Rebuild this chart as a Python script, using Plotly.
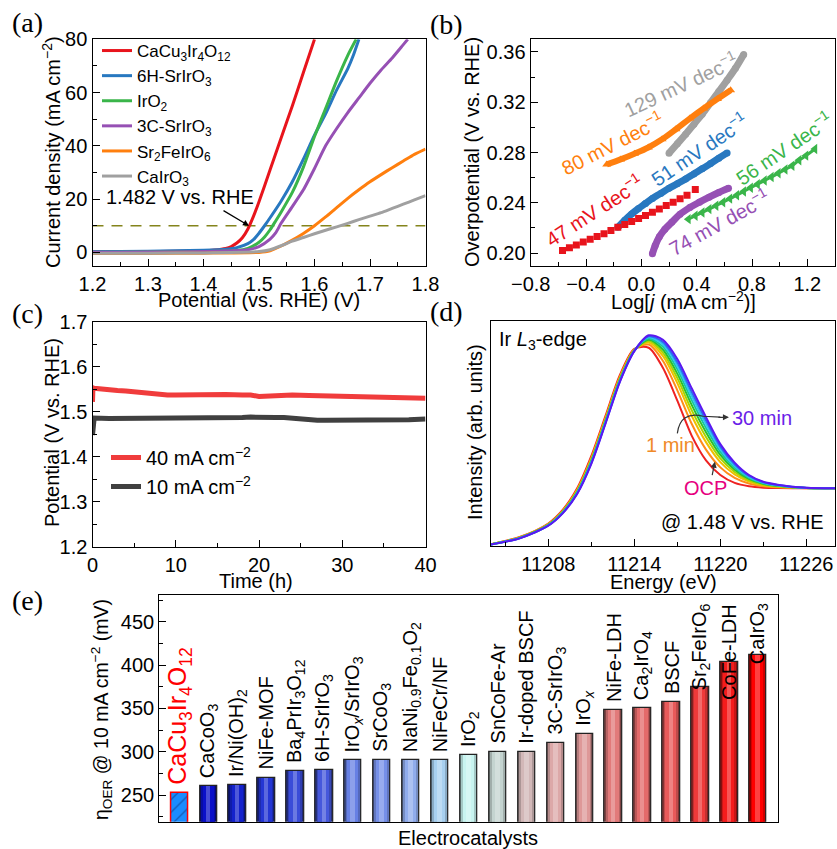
import plotly.graph_objects as go

W, H = 837, 849
FONT = "Arial, 'Liberation Sans', sans-serif"
SERIF = "'Times New Roman', 'Liberation Serif', serif"

# ---------------- (a) LSV curves ----------------
a_names = ["CaCu<sub>3</sub>Ir<sub>4</sub>O<sub>12</sub>", "6H-SrIrO<sub>3</sub>", "IrO<sub>2</sub>",
           "3C-SrIrO<sub>3</sub>", "Sr<sub>2</sub>FeIrO<sub>6</sub>", "CaIrO<sub>3</sub>"]
a_V_CaCu3Ir4O12 = [1.20, 1.30, 1.40, 1.42, 1.44, 1.45, 1.46, 1.47, 1.48, 1.49, 1.50, 1.52, 1.54, 1.56, 1.58, 1.60]
a_J_CaCu3Ir4O12 = [0.2, 0.3, 0.6, 0.9, 1.5, 2.2, 3.5, 5.5, 8.8, 13.5, 19.0, 31.0, 43.0, 55.0, 67.5, 80.0]
a_V_6H = [1.20, 1.30, 1.40, 1.44, 1.46, 1.48, 1.49, 1.50, 1.51, 1.52, 1.54, 1.56, 1.58, 1.60, 1.62, 1.64, 1.66, 1.67, 1.68]
a_J_6H = [0.2, 0.4, 0.8, 1.2, 1.8, 3.3, 4.8, 7.2, 10.0, 13.0, 19.3, 26.5, 35.0, 44.0, 52.0, 61.0, 69.0, 74.0, 80.0]
a_V_IrO2 = [1.20, 1.30, 1.40, 1.46, 1.48, 1.50, 1.51, 1.52, 1.53, 1.54, 1.56, 1.58, 1.60, 1.62, 1.64, 1.66, 1.675]
a_J_IrO2 = [0.0, 0.1, 0.3, 0.7, 1.5, 3.8, 5.8, 8.5, 11.8, 15.2, 22.5, 32.0, 43.5, 54.0, 64.5, 74.0, 80.0]
a_V_3C = [1.20, 1.30, 1.40, 1.48, 1.50, 1.52, 1.53, 1.54, 1.56, 1.58, 1.60, 1.62, 1.64, 1.66, 1.68, 1.70, 1.72, 1.74, 1.76, 1.768]
a_J_3C = [0.0, 0.1, 0.3, 1.0, 2.2, 5.0, 7.3, 11.0, 17.2, 23.5, 31.5, 40.0, 46.5, 52.5, 58.0, 63.5, 68.5, 73.0, 78.0, 80.0]
a_V_Sr2FeIrO6 = [1.20, 1.30, 1.40, 1.50, 1.52, 1.54, 1.56, 1.58, 1.60, 1.62, 1.64, 1.66, 1.68, 1.70, 1.72, 1.74, 1.76, 1.78, 1.80]
a_J_Sr2FeIrO6 = [-0.4, -0.4, -0.3, 0.0, 0.6, 2.4, 4.6, 7.1, 10.0, 13.3, 16.8, 20.3, 23.5, 26.5, 29.2, 31.8, 34.3, 36.8, 38.8]
a_V_CaIrO3 = [1.20, 1.30, 1.40, 1.50, 1.52, 1.54, 1.56, 1.58, 1.60, 1.62, 1.64, 1.66, 1.68, 1.70, 1.72, 1.74, 1.76, 1.78, 1.80]
a_J_CaIrO3 = [-0.3, -0.3, -0.2, 0.3, 1.0, 2.5, 4.2, 5.6, 7.0, 8.3, 9.6, 10.9, 12.3, 13.6, 14.9, 16.5, 18.1, 19.7, 21.3]
a_ref_V = [1.2, 1.8]
a_ref_J = [10, 10]
a_onset_V = 1.482

# ---------------- (b) Tafel ----------------
b_x_CaCu3Ir4O12 = [-0.57, -0.52, -0.47, -0.42, -0.37, -0.32, -0.27, -0.22, -0.17, -0.12, -0.07, -0.02,
                   0.03, 0.08, 0.13, 0.18, 0.23, 0.28, 0.33, 0.39]
b_y_CaCu3Ir4O12 = [0.2020, 0.2042, 0.2065, 0.2088, 0.2110, 0.2132, 0.2155, 0.2180, 0.2205, 0.2228, 0.2252,
                   0.2275, 0.2300, 0.2325, 0.2350, 0.2378, 0.2405, 0.2432, 0.2460, 0.2505]
b_x_6H = [-0.17, -0.12, -0.07, -0.02, 0.03, 0.08, 0.14, 0.20, 0.26, 0.32, 0.38, 0.44, 0.50, 0.56, 0.62]
b_y_6H = [0.2205, 0.2262, 0.2312, 0.2355, 0.2395, 0.2435, 0.2475, 0.2515, 0.2552, 0.2590, 0.2630, 0.2670,
          0.2712, 0.2755, 0.2797]
b_x_Sr2FeIrO6 = [-0.25, -0.15, -0.05, 0.05, 0.15, 0.25, 0.35, 0.45, 0.55, 0.645]
b_y_Sr2FeIrO6 = [0.2705, 0.2745, 0.2790, 0.2840, 0.2905, 0.2985, 0.3070, 0.3150, 0.3225, 0.3295]
b_x_CaIrO3 = [0.20, 0.26, 0.32, 0.38, 0.44, 0.50, 0.56, 0.62, 0.68, 0.74]
b_y_CaIrO3 = [0.2795, 0.2870, 0.2945, 0.3025, 0.3105, 0.3195, 0.3285, 0.3375, 0.3470, 0.3580]
b_x_IrO2 = [0.34, 0.39, 0.44, 0.49, 0.54, 0.59, 0.64, 0.69, 0.74, 0.79, 0.84, 0.89, 0.94, 0.99, 1.04,
            1.09, 1.14, 1.19, 1.255]
b_y_IrO2 = [0.2270, 0.2297, 0.2323, 0.2350, 0.2377, 0.2405, 0.2433, 0.2460, 0.2490, 0.2520, 0.2548, 0.2577,
            0.2605, 0.2635, 0.2665, 0.2695, 0.2738, 0.2775, 0.2828]
b_x_3C = [0.08, 0.10, 0.13, 0.17, 0.22, 0.28, 0.35, 0.42, 0.49, 0.56, 0.63]
b_y_3C = [0.1995, 0.2060, 0.2130, 0.2190, 0.2245, 0.2310, 0.2362, 0.2405, 0.2445, 0.2482, 0.2515]
b_slopes = ["129", "80", "51", "56", "47", "74"]

# ---------------- (c) stability ----------------
c_t_40 = [0, 0.05, 0.2, 1, 2, 3, 4, 5, 6, 7, 8, 9, 10, 12, 14, 16, 18, 19, 20, 21, 22, 24, 26, 28, 30,
          32, 34, 36, 38, 40]
c_E_40 = [1.522, 1.553, 1.552, 1.550, 1.548, 1.547, 1.546, 1.544, 1.542, 1.540, 1.537, 1.537, 1.537, 1.538,
          1.538, 1.538, 1.537, 1.537, 1.534, 1.535, 1.537, 1.537, 1.536, 1.535, 1.533, 1.532, 1.532, 1.531,
          1.530, 1.530]
c_t_10 = [0, 0.05, 0.2, 2, 4, 6, 8, 10, 12, 14, 16, 18, 19, 20, 22, 23, 24, 25, 26, 27, 28, 30, 32, 34,
          36, 38, 40]
c_E_10 = [1.448, 1.484, 1.486, 1.485, 1.485, 1.485, 1.485, 1.486, 1.486, 1.486, 1.487, 1.487, 1.488, 1.487,
          1.487, 1.487, 1.485, 1.484, 1.482, 1.481, 1.481, 1.481, 1.481, 1.481, 1.481, 1.482, 1.484]

# ---------------- (d) XAS ----------------
d_E = [11204, 11206, 11208, 11209, 11210, 11211, 11212, 11213, 11214, 11215, 11216, 11217, 11218, 11219,
       11220, 11221, 11222, 11223, 11224, 11226, 11228]
d_OCP = [0.008, 0.040, 0.100, 0.160, 0.255, 0.400, 0.580, 0.760, 0.875, 0.880, 0.790, 0.645, 0.490, 0.380,
         0.315, 0.280, 0.265, 0.259, 0.257, 0.256, 0.256]
d_1min = [0.008, 0.0385, 0.0975, 0.156, 0.249, 0.391, 0.571, 0.7525, 0.8725, 0.894, 0.821, 0.691, 0.5425,
          0.428, 0.349, 0.3025, 0.2775, 0.2655, 0.261, 0.2565, 0.256]
d_t3 = [0.008, 0.0375, 0.096, 0.154, 0.245, 0.385, 0.565, 0.7475, 0.871, 0.903, 0.8425, 0.723, 0.578,
        0.461, 0.3725, 0.318, 0.286, 0.270, 0.263, 0.257, 0.256]
d_t4 = [0.008, 0.037, 0.0945, 0.152, 0.2415, 0.381, 0.561, 0.744, 0.8695, 0.910, 0.8575, 0.745, 0.603,
        0.484, 0.389, 0.3285, 0.292, 0.273, 0.265, 0.257, 0.256]
d_t5 = [0.008, 0.036, 0.0935, 0.150, 0.239, 0.377, 0.557, 0.7405, 0.8685, 0.916, 0.871, 0.765, 0.6265,
        0.505, 0.404, 0.3385, 0.2975, 0.276, 0.267, 0.257, 0.256]
d_t6 = [0.007, 0.0355, 0.0925, 0.149, 0.236, 0.374, 0.554, 0.7375, 0.8675, 0.921, 0.884, 0.784, 0.6475,
        0.524, 0.418, 0.3475, 0.3025, 0.2785, 0.268, 0.2575, 0.256]
d_t7 = [0.007, 0.035, 0.0915, 0.147, 0.234, 0.371, 0.551, 0.735, 0.8665, 0.926, 0.895, 0.800, 0.666,
        0.541, 0.430, 0.3555, 0.307, 0.281, 0.2695, 0.2575, 0.256]
d_t8 = [0.007, 0.0345, 0.091, 0.146, 0.232, 0.368, 0.548, 0.7325, 0.866, 0.931, 0.905, 0.815, 0.683,
        0.557, 0.441, 0.363, 0.311, 0.283, 0.271, 0.258, 0.256]
d_30min = [0.007, 0.034, 0.090, 0.145, 0.230, 0.365, 0.545, 0.730, 0.865, 0.935, 0.915, 0.830, 0.700,
           0.572, 0.452, 0.370, 0.315, 0.285, 0.272, 0.258, 0.256]
d_series = [d_OCP, d_1min, d_t3, d_t4, d_t5, d_t6, d_t7, d_t8, d_30min]
d_colors = ["#ee2222", "#ff8c1a", "#f0c000", "#a8d400", "#2cc02c", "#18c89c", "#30c4f0", "#2a6cf0", "#5a18f0"]

# ---------------- (e) overpotential bars ----------------
e_labels = ["CaCu<sub>3</sub>Ir<sub>4</sub>O<sub>12</sub>", "CaCoO<sub>3</sub>", "Ir/Ni(OH)<sub>2</sub>",
            "NiFe-MOF", "Ba<sub>4</sub>PrIr<sub>3</sub>O<sub>12</sub>", "6H-SrIrO<sub>3</sub>",
            "IrO<sub><i>x</i></sub>/SrIrO<sub>3</sub>", "SrCoO<sub>3</sub>",
            "NaNi<sub>0.9</sub>Fe<sub>0.1</sub>O<sub>2</sub>", "NiFeCr/NF", "IrO<sub>2</sub>", "SnCoFe-Ar",
            "Ir-doped BSCF", "3C-SrIrO<sub>3</sub>", "IrO<sub><i>x</i></sub>", "NiFe-LDH",
            "Ca<sub>2</sub>IrO<sub>4</sub>", "BSCF", "Sr<sub>2</sub>FeIrO<sub>6</sub>", "CoFe-LDH",
            "CaIrO<sub>3</sub>"]
e_values = [252, 260, 262, 270, 278, 279, 290, 290, 290, 290, 296, 300, 300, 310, 320, 348, 350, 357, 375,
            404, 412]
e_colors = ["#1a8cff", "#0a10c8", "#1422cc", "#2436d4", "#3a4cd8", "#4658dc", "#6680e4", "#7690e8",
            "#90acec", "#a8d0f0", "#c8f4f0", "#c4d4d0", "#d2b8b8", "#dca8a8", "#de9898", "#e27a7a",
            "#e46a6a", "#e85a5a", "#ee3a3a", "#f41c1c", "#ff0000"]

# ======================================================================
fig = go.Figure()


def X(px):
    return px / W


def Y(py):
    return 1 - py / H


a_colors = ["#e8141c", "#2878c0", "#3ab54a", "#9650b4", "#ff7f0e", "#a0a0a0"]
a_data = [(a_V_CaCu3Ir4O12, a_J_CaCu3Ir4O12), (a_V_6H, a_J_6H), (a_V_IrO2, a_J_IrO2),
          (a_V_3C, a_J_3C), (a_V_Sr2FeIrO6, a_J_Sr2FeIrO6), (a_V_CaIrO3, a_J_CaIrO3)]
fig.add_trace(go.Scatter(x=a_ref_V, y=a_ref_J, mode="lines", showlegend=False,
                         line=dict(color="#84841c", width=1.6, dash="11px,8px"), xaxis="x", yaxis="y"))
for (vx, jy), nm, col in zip(a_data, a_names, a_colors):
    fig.add_trace(go.Scatter(x=vx, y=jy, mode="lines", name=nm, legend="legend",
                             line=dict(color=col, width=3, shape="spline", smoothing=0.6),
                             xaxis="x", yaxis="y"))

# (b)
b_specs = [
    (b_x_CaIrO3, b_y_CaIrO3, "#a0a0a0", "circle", 7, 7),
    (b_x_Sr2FeIrO6, b_y_Sr2FeIrO6, "#ff7f0e", "triangle-up", 8, 6),
    (b_x_6H, b_y_6H, "#2878c0", "circle", 7, 7),
    (b_x_IrO2, b_y_IrO2, "#3ab54a", "triangle-left", 9, 3),
    (b_x_3C, b_y_3C, "#9650b4", "circle", 7, 7),
]
for bx, by, col, sym, ms, lw in b_specs:
    fig.add_trace(go.Scatter(x=bx, y=by, mode="lines+markers", showlegend=False,
                             line=dict(color=col, width=lw, shape="spline"),
                             marker=dict(symbol=sym, size=ms, color=col, line=dict(width=0)),
                             xaxis="x2", yaxis="y2"))
fig.add_trace(go.Scatter(x=b_x_CaCu3Ir4O12, y=b_y_CaCu3Ir4O12, mode="markers", showlegend=False,
                         marker=dict(symbol="square", size=7, color="#e8141c", line=dict(width=0)),
                         xaxis="x2", yaxis="y2"))

# (c)
fig.add_trace(go.Scatter(x=c_t_40, y=c_E_40, mode="lines", name="40 mA cm<sup>\u22122</sup>",
                         legend="legend2", line=dict(color="#f03c3c", width=5), xaxis="x3", yaxis="y3"))
fig.add_trace(go.Scatter(x=c_t_10, y=c_E_10, mode="lines", name="10 mA cm<sup>\u22122</sup>",
                         legend="legend2", line=dict(color="#404040", width=5), xaxis="x3", yaxis="y3"))

# (d)
for ser, col in zip(d_series, d_colors):
    fig.add_trace(go.Scatter(x=d_E, y=ser, mode="lines", showlegend=False,
                             line=dict(color=col, width=2, shape="spline", smoothing=0.8),
                             xaxis="x4", yaxis="y4"))


# (e) bars with cylinder-like shading
def mix(hexc, other, t):
    h = hexc.lstrip("#")
    r, g, b = int(h[0:2], 16), int(h[2:4], 16), int(h[4:6], 16)
    o = other
    return "#%02x%02x%02x" % (round(r + (o[0] - r) * t), round(g + (o[1] - g) * t), round(b + (o[2] - b) * t))


e_x = list(range(len(e_values)))
dark = [mix(c, (0, 0, 0), 0.45) for c in e_colors]
mid = [mix(c, (0, 0, 0), 0.18) for c in e_colors]
light = [mix(c, (255, 255, 255), 0.25) for c in e_colors]
fig.add_trace(go.Bar(x=e_x[1:], y=e_values[1:], width=0.6, marker=dict(color=dark[1:], line=dict(color="#222222", width=1.2)),
                     showlegend=False, xaxis="x5", yaxis="y5"))
fig.add_trace(go.Bar(x=e_x[1:], y=e_values[1:], width=0.5, marker=dict(color=mid[1:], line=dict(width=0)),
                     showlegend=False, xaxis="x5", yaxis="y5"))
fig.add_trace(go.Bar(x=e_x[1:], y=e_values[1:], width=0.38, marker=dict(color=e_colors[1:], line=dict(width=0)),
                     showlegend=False, xaxis="x5", yaxis="y5"))
fig.add_trace(go.Bar(x=e_x[1:], y=e_values[1:], width=0.16, marker=dict(color=light[1:], line=dict(width=0)),
                     showlegend=False, xaxis="x5", yaxis="y5"))
fig.add_trace(go.Bar(x=e_x[:1], y=e_values[:1], width=0.6,
                     marker=dict(color=e_colors[0], line=dict(color="#ff0000", width=1.5),
                                 pattern=dict(shape="/", fgcolor="#0a2a70", bgcolor=e_colors[0], size=9, solidity=0.15)),
                     showlegend=False, xaxis="x5", yaxis="y5"))

# ---------------- axes ----------------
def axis(**kw):
    base = dict(showline=True, linecolor="black", linewidth=1.3, mirror=True, ticks="inside", ticklen=7,
                tickwidth=1.3, tickcolor="black", showgrid=False, zeroline=False, automargin=False,
                tickfont=dict(size=20, color="black", family=FONT),
                minor=dict(ticks="inside", ticklen=4, tickwidth=1.3, tickcolor="black", showgrid=False))
    for k, v in kw.items():
        if k == "minor":
            base["minor"].update(v)
        else:
            base[k] = v
    return base


ya0, ya1 = Y(265.7), Y(39.3)
layout = dict(
    width=W, height=H, margin=dict(l=0, r=0, t=0, b=0, pad=0, autoexpand=False),
    paper_bgcolor="white", plot_bgcolor="white",
    font=dict(family=FONT, size=20, color="black"), barmode="overlay", bargap=0,
    xaxis=axis(domain=[X(92.5), X(425.5)], range=[1.2, 1.8], anchor="y", tick0=1.2, dtick=0.1,
               tickformat=".1f", minor=dict(dtick=0.05)),
    yaxis=axis(domain=[ya0, ya1], range=[-5, 80], anchor="x", tick0=0, dtick=20, minor=dict(dtick=10)),
    xaxis2=axis(domain=[X(530.7), X(835)], range=[-0.8, 1.4], anchor="y2", tick0=-0.8, dtick=0.4,
                tickformat=".1f", minor=dict(dtick=0.2)),
    yaxis2=axis(domain=[ya0, ya1], range=[0.19, 0.37], anchor="x2", tick0=0.2, dtick=0.04,
                tickformat=".2f", minor=dict(dtick=0.02)),
    xaxis3=axis(domain=[X(92.5), X(425.5)], range=[0, 40], anchor="y3", tick0=0, dtick=10,
                minor=dict(dtick=5)),
    yaxis3=axis(domain=[Y(546.7), Y(321.7)], range=[1.2, 1.7], anchor="x3", tick0=1.2, dtick=0.1,
                tickformat=".1f", minor=dict(dtick=0.05)),
    xaxis4=axis(domain=[X(491), X(835)], range=[11204, 11228], anchor="y4",
                tickvals=[11208, 11214, 11220, 11226], ticktext=["11208", "11214", "11220", "11226"],
                minor=dict(tickvals=[11205, 11211, 11217, 11223])),
    yaxis4=axis(domain=[Y(546), Y(320.7)], range=[0, 1], anchor="x4", ticks="", showticklabels=False,
                minor=dict(ticks="")),
    xaxis5=axis(domain=[X(159.3), X(778.3)], range=[-0.7, 20.7], anchor="y5", ticks="",
                showticklabels=False, minor=dict(ticks="")),
    yaxis5=axis(domain=[Y(821.7), Y(595)], range=[219.2, 480.8], anchor="x5", tick0=250, dtick=50,
                minor=dict(dtick=25)),
    legend=dict(x=X(97), y=Y(33), xanchor="left", yanchor="top", bgcolor="rgba(0,0,0,0)",
                font=dict(size=17, family=FONT), tracegroupgap=0),
    legend2=dict(x=X(106), y=Y(438), xanchor="left", yanchor="top", bgcolor="rgba(0,0,0,0)",
                 font=dict(size=20, family=FONT)),
)
fig.update_layout(**layout)

ann = []


def ptext(txt, px, py, size=20, angle=0, color="black", family=FONT, xanchor="center"):
    ann.append(dict(text=txt, x=X(px), y=Y(py), xref="paper", yref="paper", showarrow=False,
                    textangle=angle, font=dict(size=size, color=color, family=family),
                    xanchor=xanchor, yanchor="middle"))


# panel labels
for lab, px, py in [("(a)", 27, 23), ("(b)", 446, 25), ("(c)", 27, 314), ("(d)", 446, 312), ("(e)", 27, 600)]:
    ptext(lab, px, py, size=28, family=SERIF)

# axis titles
ptext("Current density (mA cm<sup>\u22122</sup>)", 52, 152, angle=-90)
ptext("Potential (vs. RHE) (V)", 259, 300)
ptext("Overpotential (V vs. RHE)", 472, 152, angle=-90)
ptext("Log[<i>j</i> (mA cm<sup>\u22122</sup>)]", 683, 300)
ptext("Potential (V vs. RHE)", 52, 433, angle=-90)
ptext("Time (h)", 256, 581)
ptext("Intensity (arb. units)", 475, 432, angle=-90)
ptext("Energy (eV)", 663, 582)
ptext("\u03b7<sub>OER</sub> @ 10 mA cm<sup>\u22122</sup> (mV)", 101, 710, size=19.5, angle=-90)
ptext("Electrocatalysts", 468, 838)

# (a) annotation
ann.append(dict(text="1.482 V vs. RHE", x=1.358, y=20.8, xref="x", yref="y", showarrow=False,
                font=dict(size=20)))
ann.append(dict(text="", x=a_onset_V, y=a_ref_J[0], xref="x", yref="y", showarrow=True, ax=-27, ay=-16,
                arrowhead=2, arrowsize=1, arrowwidth=1.2, arrowcolor="black"))

# (b) slope labels
b_lab_pos = [(0.286, 0.3348, -25, "#a0a0a0"), (-0.2115, 0.2882, -27, "#ff7f0e"), (0.418, 0.2830, -34, "#2878c0"),
             (1.0295, 0.2836, -34, "#3ab54a"), (-0.343, 0.2344, -33, "#e8141c"), (0.562, 0.2251, -29, "#9650b4")]
for s, (bx, by, ang, col) in zip(b_slopes, b_lab_pos):
    ann.append(dict(text=f"{s} mV dec<sup>\u22121</sup>", x=bx, y=by, xref="x2", yref="y2", showarrow=False,
                    textangle=ang, font=dict(size=20, color=col)))

# (d) labels
ann.append(dict(text="Ir <i>L</i><sub>3</sub>-edge", x=11204.4, y=0.91, xref="x4", yref="y4", showarrow=False,
                xanchor="left", font=dict(size=20)))
ann.append(dict(text="30 min", x=11222.9, y=0.568, xref="x4", yref="y4", showarrow=False,
                font=dict(size=20, color="#6a1ee8")))
ann.append(dict(text="1 min", x=11216.5, y=0.448, xref="x4", yref="y4", showarrow=False,
                font=dict(size=20, color="#f08a28")))
ann.append(dict(text="OCP", x=11218.93, y=0.257, xref="x4", yref="y4", showarrow=False,
                font=dict(size=20, color="#e6007e")))
ann.append(dict(text="@ 1.48 V vs. RHE", x=11227.4, y=0.1065, xref="x4", yref="y4", showarrow=False,
                xanchor="right", font=dict(size=20)))
ann.append(dict(text="", x=11220.6, y=0.571, xref="x4", yref="y4", showarrow=True, ax=-12, ay=0,
                arrowhead=2, arrowsize=1, arrowwidth=1.2, arrowcolor="#333333"))
ann.append(dict(text="", x=11219.62, y=0.374, xref="x4", yref="y4", showarrow=True, ax=-3, ay=15,
                arrowhead=2, arrowsize=1, arrowwidth=1.2, arrowcolor="#333333"))

# (e) bar labels
top_anchored = {"Sr<sub>2</sub>FeIrO<sub>6</sub>", "CoFe-LDH", "CaIrO<sub>3</sub>"}
for i, (lab, v) in enumerate(zip(e_labels, e_values)):
    first = i == 0
    if lab in top_anchored:
        ann.append(dict(text=lab, x=i, y=473, xref="x5", yref="y5", showarrow=False, textangle=-90,
                        xanchor="center", yanchor="top", font=dict(size=20)))
    else:
        ann.append(dict(text=lab, x=i, y=v, xref="x5", yref="y5", showarrow=False, textangle=-90,
                        xanchor="center", yanchor="bottom", yshift=6,
                        font=dict(size=25 if first else 20, color="#ff0000" if first else "black")))

fig.update_layout(annotations=ann)
fig.add_shape(type="path", path="M 11217.0,0.50 Q 11217.2,0.60 11218.8,0.576 L 11220.0,0.572",
              xref="x4", yref="y4", line=dict(color="#333333", width=1.2))

fig.write_html("out.html", config={"displayModeBar": False},
               post_script="document.body.style.margin='0';")
